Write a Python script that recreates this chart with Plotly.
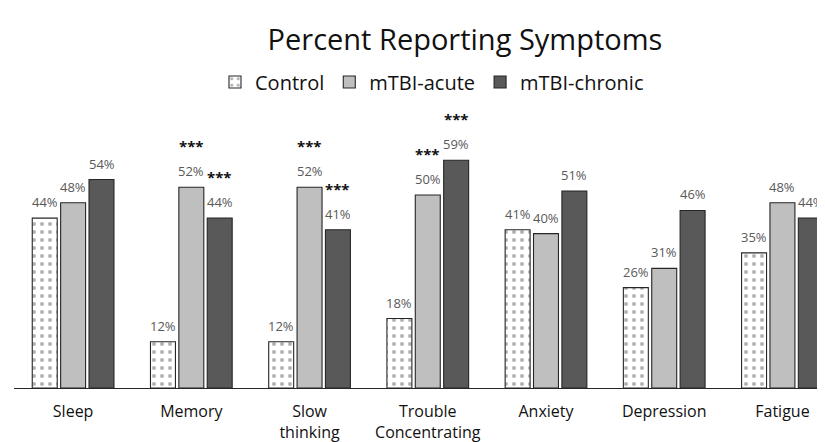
import plotly.graph_objects as go

categories = ["Sleep", "Memory", "Slow<br>thinking", "Trouble<br>Concentrating", "Anxiety", "Depression", "Fatigue"]
control = [44, 12, 12, 18, 41, 26, 35]
acute = [48, 52, 52, 50, 40, 31, 48]
chronic = [54, 44, 41, 59, 51, 46, 44]
series_names = ["Control", "mTBI-acute", "mTBI-chronic"]
# significance markers: (category index, series index 1=acute 2=chronic)
stars = [(1, 1), (1, 2), (2, 1), (2, 2), (3, 1), (3, 2)]

FONT = "Open Sans"
# page has an 8px body margin, so the figure is 8px smaller in each direction
W, H = 817, 434
L, R, T, B = 6, 0, 92, 54
plot_h = H - T - B
px_per_pct = 3.86

fig = go.Figure()
line = dict(color="#262626", width=1.1)
fig.add_bar(name=series_names[0], x=categories, y=control,
            marker=dict(color="white", line=line,
                        pattern=dict(shape=".", fgcolor="#666666", bgcolor="white", size=8, solidity=0.2)))
fig.add_bar(name=series_names[1], x=categories, y=acute,
            marker=dict(color="#BFBFBF", line=line))
fig.add_bar(name=series_names[2], x=categories, y=chronic,
            marker=dict(color="#595959", line=line))

series = [control, acute, chronic]
slot = 28.4
for si, vals in enumerate(series):
    for ci, v in enumerate(vals):
        fig.add_annotation(x=categories[ci], y=v, xref="x", yref="y",
                           text=f"{v}%", showarrow=False, xshift=(si - 1) * slot,
                           yshift=16, yanchor="middle",
                           font=dict(size=13, color="#595959", family=FONT))
for ci, si in stars:
    fig.add_annotation(x=categories[ci], y=series[si][ci], xref="x", yref="y",
                       text="<b>***</b>", showarrow=False, xshift=(si - 1) * slot,
                       yshift=41, yanchor="middle",
                       font=dict(size=15, color="#111111", family=FONT))

fig.update_layout(
    width=W, height=H,
    margin=dict(l=L, r=R, t=T, b=B),
    paper_bgcolor="white", plot_bgcolor="white",
    barmode="group", bargap=0.28, bargroupgap=0.12,
    font=dict(family=FONT, color="#111111"),
    title=dict(text="Percent Reporting Symptoms", x=457 / W, xanchor="center",
               y=1 - 32 / H, yanchor="middle", xref="container", yref="container",
               font=dict(size=29, color="#111111", family=FONT)),
    legend=dict(orientation="h", x=(424 - L) / (W - L - R), xanchor="center", y=1 + 18 / plot_h,
                yanchor="middle", font=dict(size=20, color="#111111", family=FONT),
                itemwidth=30, traceorder="normal", tracegroupgap=0),
    xaxis=dict(range=[-0.5, 6.36], showline=True, linecolor="#262626", linewidth=1.2,
               ticks="", tickfont=dict(size=16, color="#111111", family=FONT),
               ticklabelstandoff=9, showgrid=False),
    yaxis=dict(range=[0, plot_h / px_per_pct], visible=False, showgrid=False),
)
fig.write_html("out.html")
